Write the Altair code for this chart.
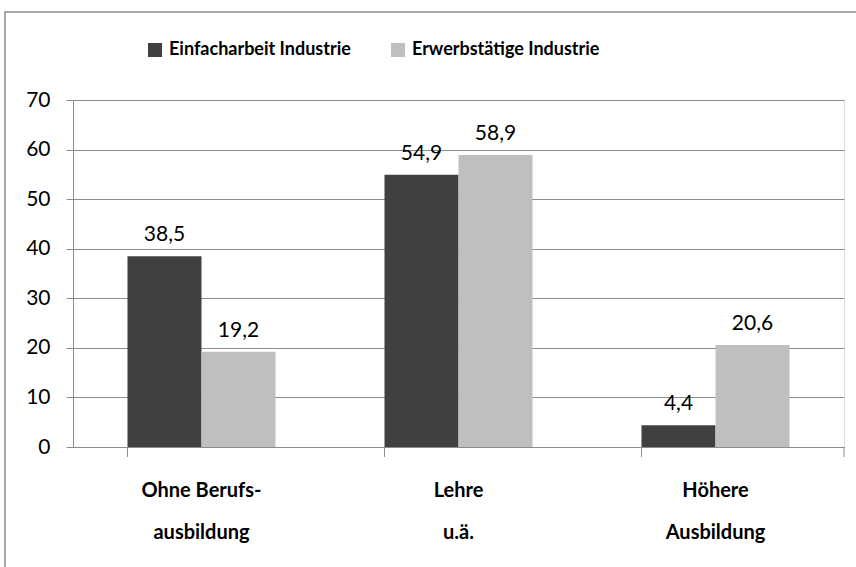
import altair as alt
import pandas as pd

categories = ["Ohne Berufs-|ausbildung", "Lehre|u.ä.", "Höhere|Ausbildung"]
series = ["Einfacharbeit  Industrie", "Erwerbstätige Industrie"]
einfach = [38.5, 54.9, 4.4]
erwerb = [19.2, 58.9, 20.6]
colors = ["#404040", "#BFBFBF"]
y_ticks = [0, 10, 20, 30, 40, 50, 60, 70]

rows = []
for c, a, b in zip(categories, einfach, erwerb):
    rows.append({"cat": c, "series": series[0], "value": a})
    rows.append({"cat": c, "series": series[1], "value": b})
df = pd.DataFrame(rows)

W, H = 771, 347
FONT = "Lato"
GRID = "#8C8C8C"

xscale = alt.Scale(paddingInner=0.424, paddingOuter=0.212)
x_enc = alt.X(
    "cat:N", sort=categories, scale=xscale,
    axis=alt.Axis(title=None, labelAngle=0, labelExpr="split(datum.label, '|')",
                  ticks=False, domain=True, domainColor=GRID, labelFont=FONT,
                  labelFontSize=20, labelFontWeight="bold", labelColor="#000000",
                  labelPadding=33, labelLineHeight=42, labelBaseline="top"),
)
y_enc = alt.Y(
    "value:Q", scale=alt.Scale(domain=[0, 70], nice=False),
    axis=alt.Axis(title=None, values=y_ticks, grid=True, gridColor=GRID, gridWidth=1,
                  domainColor=GRID, tickColor=GRID, tickSize=7, labelPadding=16,
                  labelFont=FONT, labelFontSize=21, labelColor="#000000"),
)

base = alt.Chart(df)

bars = base.mark_bar().encode(
    x=x_enc,
    xOffset=alt.XOffset("series:N", sort=series),
    y=y_enc,
    color=alt.Color("series:N", sort=series,
                    scale=alt.Scale(domain=series, range=colors),
                    legend=alt.Legend(title=None, orient="none", legendX=73, legendY=-59,
                                      direction="horizontal", symbolType="square",
                                      symbolSize=196, symbolStrokeWidth=0,
                                      labelFont=FONT, labelFontSize=18, labelLimit=0,
                                      labelFontWeight="bold", labelColor="#000000",
                                      columnPadding=33, labelOffset=5)),
)

labels = base.transform_calculate(
    lab="replace(format(datum.value, '.1f'), '.', ',')"
).mark_text(font=FONT, fontSize=21, color="#000000", dy=-15, baseline="alphabetic").encode(
    x=alt.X("cat:N", sort=categories),
    xOffset=alt.XOffset("series:N", sort=series),
    y=alt.Y("value:Q"),
    text="lab:N",
)

cat_df = pd.DataFrame({"cat": categories})
ticks = alt.Chart(cat_df).mark_rule(color=GRID).encode(
    x=alt.X("cat:N", sort=categories, bandPosition=0),
    y=alt.value(H), y2=alt.value(H + 10),
)
end_tick = alt.Chart(cat_df.head(1)).mark_rule(color=GRID).encode(
    x=alt.value(W), y=alt.value(H), y2=alt.value(H + 10),
)

frame = alt.Chart(pd.DataFrame({"f": [0]})).mark_rect(
    fill=None, stroke="#8C8C8C", strokeWidth=1.5
).encode(
    x=alt.value(-68), x2=alt.value(790), y=alt.value(-88), y2=alt.value(480),
)

chart = alt.layer(frame, bars, labels, ticks, end_tick).properties(
    width=W, height=H,
    autosize=alt.AutoSizeParams(type="none"),
    padding={"left": 73, "top": 100, "right": 12, "bottom": 120},
).configure_view(stroke=None).configure(background="white")

chart.save("out.html", embed_options={"renderer": "svg", "actions": False})
